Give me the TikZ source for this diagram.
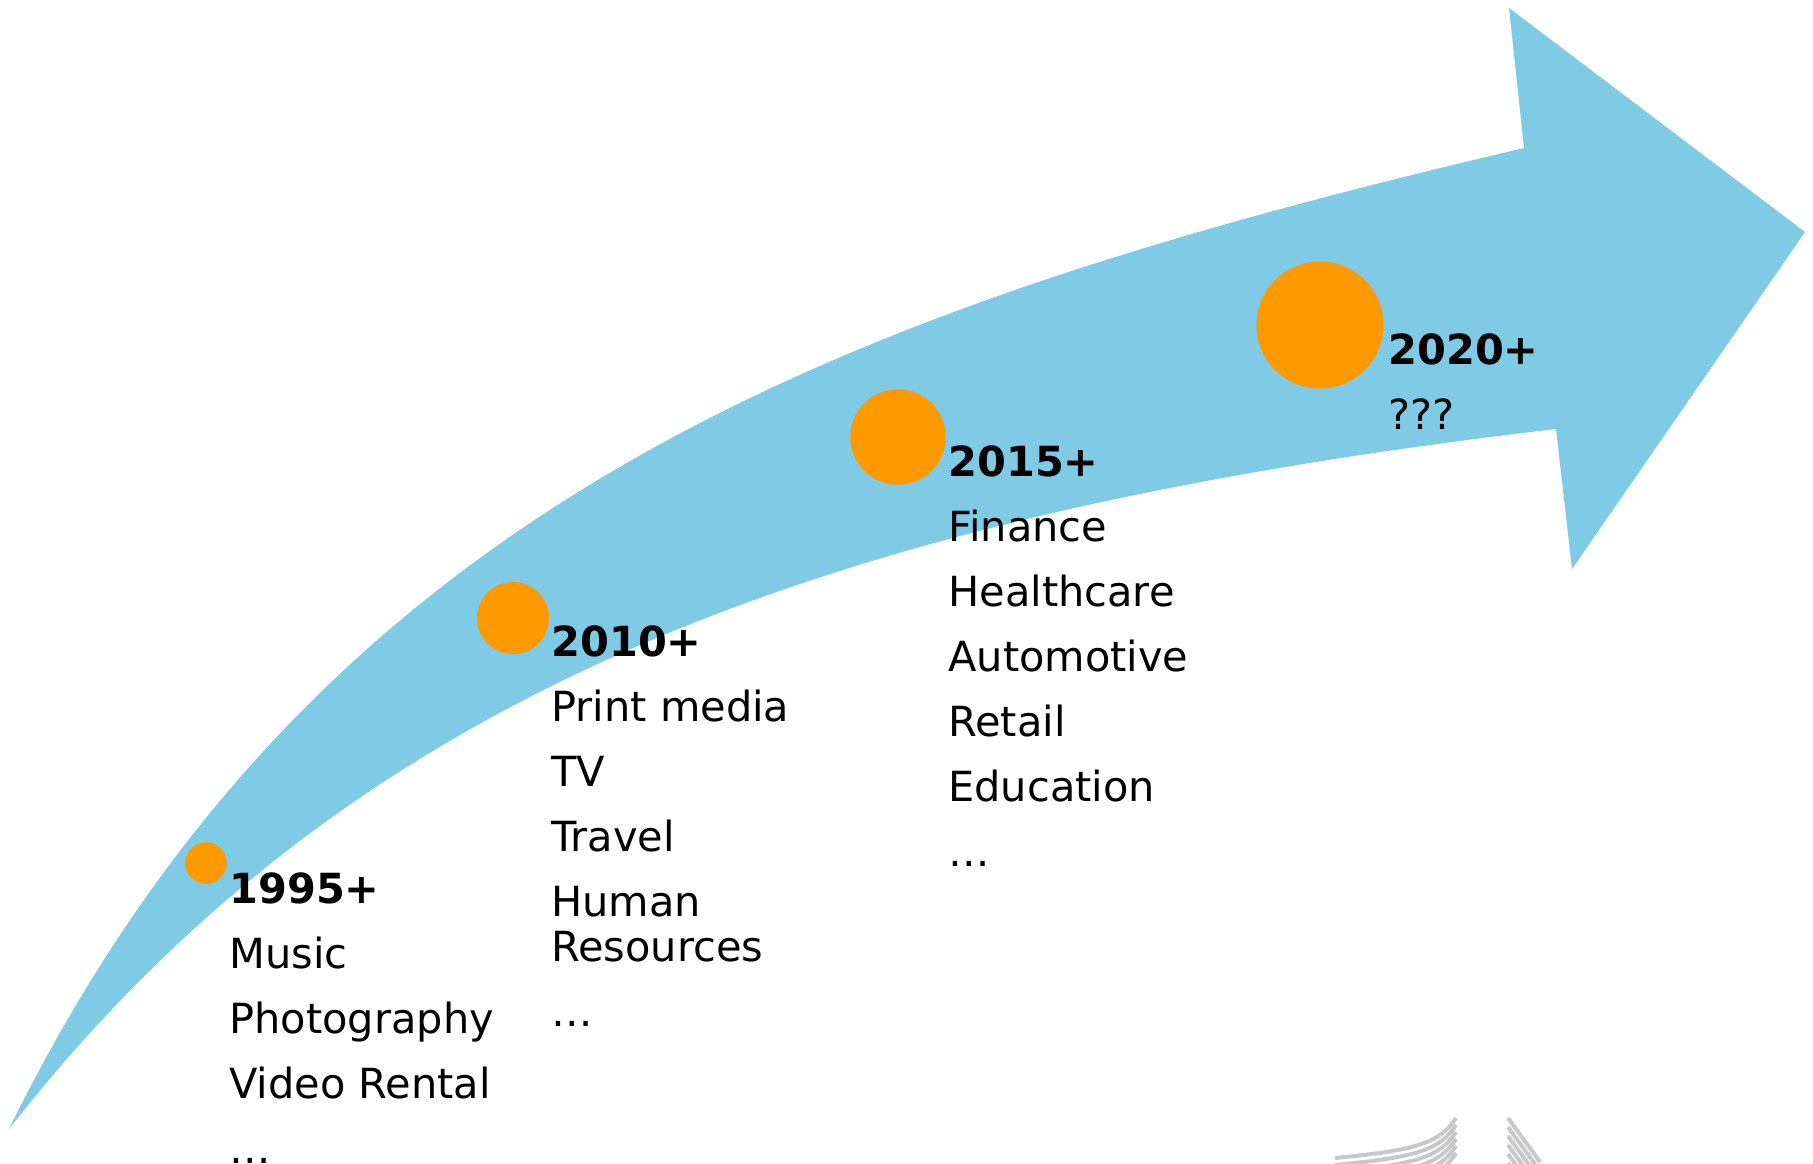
\documentclass[tikz,border=0pt]{standalone}
\usepackage{fontspec}
\setmainfont{DejaVu Sans}
\definecolor{arrowblue}{RGB}{127,202,228}
\definecolor{dotorange}{RGB}{255,153,0}
\definecolor{logogray}{RGB}{200,200,200}

\begin{document}
\begin{tikzpicture}[x=0.5pt, y=-0.5pt,
  dot/.style={circle, fill=dotorange, inner sep=0pt},
  era/.style={anchor=north west, align=left, inner sep=0pt, font=\fontsize{20.75}{32.5}\selectfont}]
\useasboundingbox (0,0) rectangle (1813,1163);
% the big arrow
\fill[arrowblue] (9,1129) .. controls (318,501) and (842,308) .. (1524,148)
  -- (1509,8) -- (1805,232) -- (1572,569) -- (1556,429)
  .. controls (811,516) and (348,696) .. (9,1129) -- cycle;
% milestones
\node[dot, minimum size=20.7pt] (d1995) at (206,863) {};
\node[dot, minimum size=36pt] (d2010) at (513,618) {};
\node[dot, minimum size=47.7pt] (d2015) at (898,437) {};
\node[dot, minimum size=63.5pt] (d2020) at (1320,325) {};
\node[era] (t1995) at (229,872) {\textbf{1995+}\\Music\\Photography\\Video Rental\\…};
\node[era] (t2010) at (551,625) {\textbf{2010+}\\Print media\\TV\\Travel\\Human\\[-10pt]Resources\\…};
\node[era] (t2015) at (948,445) {\textbf{2015+}\\Finance\\Healthcare\\Automotive\\Retail\\Education\\…};
\node[era] (t2020) at (1388,333) {\textbf{2020+}\\???};
% cut-off logo bottom right
\foreach \k in {0,...,5}
  \draw[logogray, line width=2pt] (1456,1118+7*\k) .. controls (1440,1142+7*\k) and (1420,1150+7*\k) .. (1335,1158+7*\k);
\foreach \k in {0,...,6}
  \draw[logogray, line width=2pt] (1508,1118+9*\k) -- ++(32,44);
\end{tikzpicture}
\end{document}
